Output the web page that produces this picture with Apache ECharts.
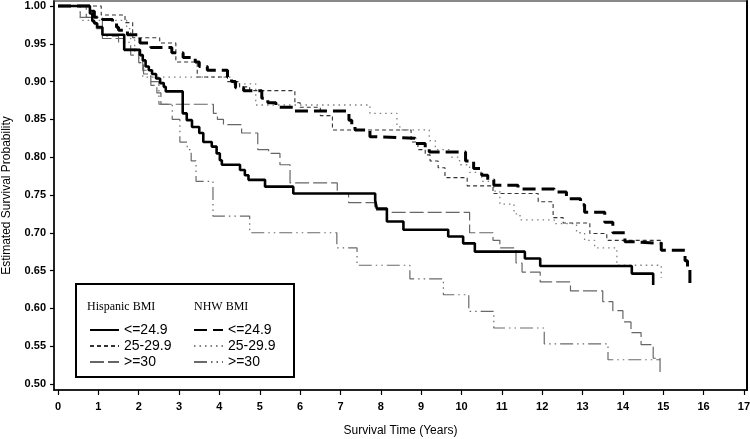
<!DOCTYPE html>
<html><head><meta charset="utf-8">
<script src="https://cdn.jsdelivr.net/npm/echarts@6/dist/echarts.min.js"></script>
<style>html,body{margin:0;padding:0;background:#fff}#c{width:750px;height:439px}</style>
</head><body><div id="c"></div>
<script>
const xTicks = [0,1,2,3,4,5,6,7,8,9,10,11,12,13,14,15,16,17];
const yTicks = [0.50,0.55,0.60,0.65,0.70,0.75,0.80,0.85,0.90,0.95,1.00];

const hispLowT = [0,0.79,0.85,0.9,0.97,1.1,1.64,2.03,2.1,2.17,2.25,2.33,2.43,2.53,2.62,2.67,3.09,3.19,3.32,3.5,3.6,3.81,3.93,4.01,4.06,4.51,4.63,4.72,5.13,5.83,7.86,7.9,8.15,8.56,9.67,10.04,10.33,11.57,11.95,14.22,14.75];
const hispLowS = [1.0,0.99,0.98,0.977,0.972,0.962,0.942,0.935,0.928,0.92,0.915,0.91,0.904,0.898,0.893,0.887,0.858,0.849,0.840,0.832,0.82,0.814,0.805,0.796,0.790,0.783,0.776,0.770,0.761,0.752,0.743,0.732,0.715,0.704,0.695,0.686,0.675,0.666,0.656,0.646,0.631];

const hispMidT = [0,1.07,1.66,1.85,2.52,2.92,3.45,4.2,4.5,4.75,5.87,6.0,6.5,6.8,8.75,8.92,9.1,9.22,9.42,9.59,10.14,10.78,11.9,12.27,12.52,13.18,13.6,14.97];
const hispMidS = [1.0,0.988,0.978,0.958,0.951,0.926,0.906,0.90,0.893,0.888,0.872,0.866,0.855,0.836,0.82,0.81,0.803,0.795,0.786,0.773,0.762,0.752,0.741,0.72,0.713,0.699,0.69,0.685];

const hispHighT = [0,0.7,0.95,1.1,1.65,2.0,2.12,2.3,2.45,2.55,3.85,3.95,4.1,4.55,4.95,5.22,5.5,5.75,6.92,7.2,7.85,8.15,10.2,10.78,10.95,11.35,11.5,11.95,12.7,13.5,13.75,14.0,14.2,14.45,14.75,14.92];
const hispHighS = [1.0,0.985,0.97,0.957,0.943,0.925,0.91,0.895,0.885,0.87,0.858,0.85,0.843,0.832,0.81,0.805,0.79,0.766,0.752,0.74,0.73,0.727,0.70,0.69,0.68,0.66,0.648,0.635,0.623,0.609,0.597,0.582,0.568,0.552,0.534,0.512];

const nhwLowT = [0,0.85,0.9,1.1,1.35,1.45,1.5,1.72,2.03,2.3,2.82,3.1,3.4,3.5,3.7,4.2,4.3,4.4,4.6,5.05,5.2,5.4,5.82,7.21,7.28,7.36,7.73,7.9,8.85,9.1,9.2,10.1,10.3,10.5,10.65,10.8,11.4,12.3,12.6,12.95,13.05,13.55,13.75,14.05,14.3,14.95,15.54,15.6,15.66];
const nhwLowS = [1.0,0.993,0.985,0.982,0.978,0.972,0.968,0.962,0.951,0.945,0.938,0.932,0.926,0.92,0.915,0.906,0.90,0.892,0.888,0.878,0.872,0.866,0.861,0.849,0.842,0.836,0.827,0.825,0.818,0.812,0.807,0.795,0.785,0.776,0.77,0.763,0.758,0.754,0.745,0.737,0.727,0.714,0.70,0.688,0.686,0.677,0.663,0.655,0.632];

const nhwMidT = [0,0.55,1.7,1.8,1.9,2.0,2.1,4.3,4.9,7.73,8.4,8.5,9.2,9.35,9.75,9.95,10.2,10.5,10.8,10.95,11.3,11.45,12.3,12.85,13.05,13.3,13.85,14.95];
const nhwMidS = [1.0,0.981,0.97,0.955,0.94,0.925,0.906,0.897,0.869,0.858,0.84,0.836,0.822,0.81,0.80,0.79,0.78,0.768,0.755,0.738,0.725,0.717,0.712,0.70,0.69,0.68,0.657,0.64];

const nhwHighT = [0,0.55,1.1,1.5,1.8,2.1,2.3,2.5,2.83,3.02,3.2,3.3,3.42,3.84,4.75,6.91,7.41,8.72,9.55,10.18,10.8,12.05,13.63,14.92];
const nhwHighS = [1.0,0.985,0.96,0.952,0.935,0.915,0.9,0.87,0.85,0.82,0.81,0.795,0.768,0.722,0.70,0.68,0.657,0.639,0.618,0.596,0.574,0.553,0.532,0.532];

const FONT = 'Liberation Sans, Arial, sans-serif';
const SERIF = 'Liberation Serif, Times New Roman, serif';

function km(name, t, s, color, width, dash, z) {
  return {
    name: name, type: 'line', step: 'end', symbol: 'none', showSymbol: false,
    data: t.map((v, i) => [v, s[i]]),
    lineStyle: { color: color, width: width, type: dash, cap: 'butt' },
    itemStyle: { color: color },
    silent: true, animation: false, z: z
  };
}

const chart = echarts.init(document.getElementById('c'), null, { renderer: 'canvas' });
const legendCommon = {
  orient: 'vertical', top: 322, padding: 0, itemWidth: 29, itemHeight: 10, itemGap: 0,
  selectedMode: false, formatter: n => n.split('|')[1],
  itemStyle: { opacity: 0, color: 'transparent', borderColor: 'transparent', borderWidth: 0 },
  textStyle: { fontSize: 14, lineHeight: 16, fontFamily: FONT, color: '#000' }, z: 6
};
chart.setOption({
  animation: false,
  backgroundColor: '#fff',
  grid: { left: 54, right: 3, top: 1, bottom: 49, containLabel: false, outerBoundsMode: 'none',
          show: true, borderColor: '#888', borderWidth: 2, backgroundColor: 'transparent' },
  xAxis: {
    type: 'value', min: -0.1, max: 17.075,
    axisLine: { show: true, onZero: false, lineStyle: { color: '#000', width: 1.5 } },
    axisTick: { show: true, customValues: xTicks, length: 5, lineStyle: { color: '#000', width: 1.2 } },
    axisLabel: { customValues: xTicks, margin: 11, fontSize: 11, fontWeight: 'bold', color: '#000', fontFamily: FONT },
    splitLine: { show: false },
    name: 'Survival Time (Years)', nameLocation: 'middle', nameGap: 35,
    nameTextStyle: { fontSize: 12, color: '#000', fontFamily: FONT }
  },
  yAxis: [{
    type: 'value', min: 0.492, max: 1.0066,
    axisLine: { show: true, onZero: false, lineStyle: { color: '#000', width: 1.5 } },
    axisTick: { show: true, customValues: yTicks, length: 4, lineStyle: { color: '#000', width: 1.2 } },
    axisLabel: { customValues: yTicks, margin: 8, fontSize: 11, fontWeight: 'bold', color: '#000', fontFamily: FONT, formatter: v => v.toFixed(2) },
    splitLine: { show: false },
    name: 'Estimated Survival Probability', nameLocation: 'middle', nameGap: 41,
    nameTextStyle: { fontSize: 12, color: '#000', fontFamily: FONT }
  }, {
    type: 'value', position: 'right', min: 0.492, max: 1.0066,
    axisLine: { show: true, onZero: false, lineStyle: { color: '#000', width: 2 } },
    axisTick: { show: false }, axisLabel: { show: false }, splitLine: { show: false }
  }],
  legend: [
    Object.assign({}, legendCommon, { left: 89, data: ['Hispanic|<=24.9', 'Hispanic|25-29.9', 'Hispanic|>=30'] }),
    Object.assign({}, legendCommon, { left: 193, data: ['NHW|<=24.9', 'NHW|25-29.9', 'NHW|>=30'] })
  ],
  graphic: [
    { type: 'rect', z: 3, shape: { x: 76, y: 284, width: 218, height: 93 }, style: { fill: '#fff', stroke: '#000', lineWidth: 2 } },
    { type: 'text', z: 7, x: 87, y: 307, style: { text: 'Hispanic BMI', font: '12px ' + SERIF, fill: '#000', verticalAlign: 'middle' } },
    { type: 'text', z: 7, x: 194, y: 307, style: { text: 'NHW BMI', font: '12px ' + SERIF, fill: '#000', verticalAlign: 'middle' } }
  ],
  series: [
    km('NHW|>=30', nhwHighT, nhwHighS, '#6a6a6a', 1.2, [13, 4, 1.5, 4, 1.5, 4], 2),
    km('NHW|25-29.9', nhwMidT, nhwMidS, '#808080', 1.3, [1.5, 4], 2),
    km('Hispanic|>=30', hispHighT, hispHighS, '#666', 1.2, [14, 4], 2),
    km('Hispanic|25-29.9', hispMidT, hispMidS, '#333', 1.1, [4, 3], 2),
    km('NHW|<=24.9', nhwLowT, nhwLowS, '#000', 3, [13, 6], 3),
    km('Hispanic|<=24.9', hispLowT, hispLowS, '#000', 2.6, 'solid', 3)
  ]
});
</script></body></html>
